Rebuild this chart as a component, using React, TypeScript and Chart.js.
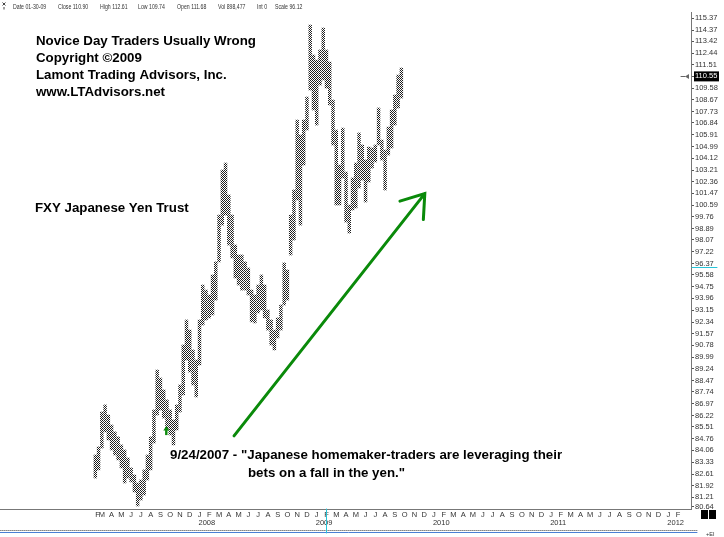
import React, { useEffect, useRef } from 'react';
import { Chart, registerables } from 'chart.js';

Chart.register(...registerables);

// ---- data ----
// one bar per ~10 days: period start dates
const PERIODS = [
  '2007-02-11', '2007-02-21',
  '2007-03-01', '2007-03-11', '2007-03-21', '2007-04-01', '2007-04-11', '2007-04-21',
  '2007-05-01', '2007-05-11', '2007-05-21', '2007-06-01', '2007-06-11', '2007-06-21',
  '2007-07-01', '2007-07-11', '2007-07-21', '2007-08-01', '2007-08-11', '2007-08-21',
  '2007-09-01', '2007-09-11', '2007-09-21', '2007-10-01', '2007-10-11', '2007-10-21',
  '2007-11-01', '2007-11-11', '2007-11-21', '2007-12-01', '2007-12-11', '2007-12-21',
  '2008-01-01', '2008-01-11', '2008-01-21', '2008-02-01', '2008-02-11', '2008-02-21',
  '2008-03-01', '2008-03-11', '2008-03-21', '2008-04-01', '2008-04-11', '2008-04-21',
  '2008-05-01', '2008-05-11', '2008-05-21', '2008-06-01', '2008-06-11', '2008-06-21',
  '2008-07-01', '2008-07-11', '2008-07-21', '2008-08-01', '2008-08-11', '2008-08-21',
  '2008-09-01', '2008-09-11', '2008-09-21', '2008-10-01', '2008-10-11', '2008-10-21',
  '2008-11-01', '2008-11-11', '2008-11-21', '2008-12-01', '2008-12-11', '2008-12-21',
  '2009-01-01', '2009-01-11', '2009-01-21', '2009-02-01', '2009-02-11', '2009-02-21',
  '2009-03-01', '2009-03-11', '2009-03-21', '2009-04-01', '2009-04-11', '2009-04-21',
  '2009-05-01', '2009-05-11', '2009-05-21', '2009-06-01', '2009-06-11', '2009-06-21',
  '2009-07-01', '2009-07-11', '2009-07-21', '2009-08-01', '2009-08-11', '2009-08-21',
  '2009-09-01', '2009-09-11', '2009-09-21',
];

const HIGHS = [
  83.77, 84.27, 86.45, 86.90, 86.26, 85.63, 85.20, 84.89, 84.39, 84.08,
  83.59, 82.98, 82.55, 82.07, 82.25, 82.86, 83.77, 84.89, 86.58, 89.15,
  88.63, 87.86, 87.22, 86.58, 85.95, 86.90, 88.18, 90.80, 92.48, 91.80,
  90.47, 89.81, 92.48, 94.88, 94.53, 94.19, 95.58, 96.50, 99.87, 103.22,
  103.75, 101.35, 99.87, 97.70, 96.99, 96.99, 96.50, 96.07, 94.53, 94.19,
  94.88, 95.58, 94.88, 93.16, 92.48, 91.80, 92.62, 93.50, 96.43, 95.93,
  99.87, 101.72, 107.07, 105.90, 107.07, 108.89, 114.79, 112.29, 111.88, 112.71,
  114.54, 112.71, 111.72, 108.65, 106.29, 103.60, 106.44, 103.07, 100.61, 102.62,
  103.75, 106.06, 105.13, 103.98, 104.97, 104.90, 105.13, 108.02, 105.51, 104.74,
  106.52, 107.86, 109.05, 110.66, 111.23,
];

const LOWS = [
  82.37, 82.86, 84.20, 85.20, 84.70, 84.08, 83.77, 83.47, 82.98, 82.07,
  82.37, 82.13, 81.53, 80.70, 81.05, 81.35, 82.25, 82.86, 84.51, 86.26,
  86.58, 86.07, 85.44, 85.01, 84.39, 85.32, 86.45, 87.54, 89.81, 89.02,
  88.18, 87.41, 89.48, 92.14, 92.48, 92.62, 92.82, 93.84, 96.50, 99.14,
  99.87, 97.70, 96.78, 95.37, 94.88, 94.53, 94.53, 94.19, 92.35, 92.28,
  92.96, 93.16, 92.62, 91.80, 90.80, 90.47, 91.27, 91.80, 93.50, 93.84,
  96.99, 98.06, 100.98, 99.14, 103.60, 106.29, 109.45, 107.86, 106.68, 109.85,
  110.26, 109.61, 108.26, 105.13, 100.61, 100.61, 102.62, 99.36, 98.56, 100.24,
  100.39, 101.87, 102.47, 100.83, 102.32, 103.37, 103.83, 105.13, 103.98, 101.72,
  104.36, 104.90, 106.68, 108.02, 108.81,
];

const Y_TICKS = [
  115.37, 114.37, 113.42, 112.44, 111.51, 110.55, 109.58, 108.67, 107.73, 106.84,
  105.91, 104.99, 104.12, 103.21, 102.36, 101.47, 100.59, 99.76, 98.89, 98.07,
  97.22, 96.37, 95.58, 94.75, 93.96, 93.15, 92.34, 91.57, 90.78, 89.99,
  89.24, 88.47, 87.74, 86.97, 86.22, 85.51, 84.76, 84.06, 83.33, 82.61,
  81.92, 81.21, 80.64,
];

const MONTH_LETTERS = ['J', 'F', 'M', 'A', 'M', 'J', 'J', 'A', 'S', 'O', 'N', 'D'];
const YEAR_LABELS = ['2008', '2009', '2010', '2011', '2012'];
const FIRST_TICK = 1.55; // 'F' label at the first bar (Feb 2007)
const LAST_TICK = 61; // Feb 2012

const LAST_PRICE = 110.55;
const CURSOR_DATE = '2009-01-30';
const CURSOR_PRICE = 96.12;

const HEADER_ITEMS = [
  'Date 01-30-09', 'Close 110.90', 'High 112.61', 'Low 109.74',
  'Open 111.68', 'Vol 898,477', 'Int 0', 'Scale 96.12',
];
const TITLE_LINES = [
  'Novice Day Traders Usually Wrong',
  'Copyright \u00A92009',
  'Lamont Trading Advisors, Inc.',
  'www.LTAdvisors.net',
];
const TRUST_LABEL = 'FXY Japanese Yen Trust';
const QUOTE_LINES = [
  '9/24/2007 - "Japanese homemaker-traders are leveraging their',
  'bets on a fall in the yen."',
];
// arrow anchors in data space (date, price)
const ARROW_FROM = { date: '2008-04-17', price: 84.95 };
const ARROW_TO = { date: '2009-12-03', price: 101.45 };
const SMALL_ARROW = { date: '2007-09-19', price: 85.0 };

// ---- helpers ----
const toMonth = (s: string) => {
  const [y, m, d] = s.split('-').map(Number);
  return (y - 2007) * 12 + (m - 1) + (d - 1) / 30;
};

const FONT = "'Liberation Sans', Arial, sans-serif";
const X_MIN = -8.426;
const X_MAX = 62.32;
const Y_MIN = 80.52;
const Y_MAX = 115.89;

export default function App() {
  const ref = useRef<HTMLCanvasElement | null>(null);

  useEffect(() => {
    const canvas = ref.current;
    if (!canvas) return;
    const ctx0 = canvas.getContext('2d')!;

    const pc = document.createElement('canvas');
    pc.width = 2;
    pc.height = 2;
    const pctx = pc.getContext('2d')!;
    pctx.fillStyle = '#ffffff';
    pctx.fillRect(0, 0, 2, 2);
    pctx.fillStyle = '#1e1e1e';
    pctx.fillRect(0, 0, 1, 1);
    pctx.fillRect(1, 1, 1, 1);
    const pattern = ctx0.createPattern(pc, 'repeat') as CanvasPattern;

    const xTicks: number[] = [FIRST_TICK];
    for (let m = 2; m <= LAST_TICK; m++) xTicks.push(m);

    const data = PERIODS.map((p, i) => ({ x: toMonth(p), y: [LOWS[i], HIGHS[i]] }));

    const overlay = {
      id: 'overlay',
      beforeDraw(chart: any) {
        const ctx = chart.ctx;
        const ys = chart.scales.y;
        const py = ys.getPixelForValue(LAST_PRICE);
        ctx.save();
        ctx.fillStyle = '#000';
        ctx.fillRect(694, py - 5, 25, 10);
        ctx.restore();
      },
      afterDraw(chart: any) {
        const ctx = chart.ctx;
        const xs = chart.scales.x;
        const ys = chart.scales.y;
        ctx.save();

        // header icon
        ctx.strokeStyle = '#444';
        ctx.lineWidth = 1;
        ctx.beginPath();
        ctx.moveTo(2.5, 2.5); ctx.lineTo(5.5, 5.5);
        ctx.moveTo(5.5, 2.5); ctx.lineTo(2.5, 5.5);
        ctx.moveTo(4, 7); ctx.lineTo(4, 9.5);
        ctx.stroke();

        // header quote line
        const headerX = [13, 58, 100, 138, 177, 218, 257, 275];
        ctx.fillStyle = '#333';
        ctx.font = `6.5px ${FONT}`;
        ctx.textBaseline = 'alphabetic';
        ctx.textAlign = 'left';
        HEADER_ITEMS.forEach((t, i) => {
          ctx.save();
          ctx.translate(headerX[i], 8.5);
          ctx.scale(0.8, 1);
          ctx.fillText(t, 0, 0);
          ctx.restore();
        });

        // titles
        ctx.fillStyle = '#000';
        ctx.font = `bold 13.3px ${FONT}`;
        TITLE_LINES.forEach((t, i) => ctx.fillText(t, 36, 45 + i * 17));
        ctx.fillText(TRUST_LABEL, 35, 212);
        ctx.fillText(QUOTE_LINES[0], 170, 459);
        ctx.fillText(QUOTE_LINES[1], 248, 476.5);

        // main green arrow
        const x1 = xs.getPixelForValue(toMonth(ARROW_FROM.date));
        const y1 = ys.getPixelForValue(ARROW_FROM.price);
        const x2 = xs.getPixelForValue(toMonth(ARROW_TO.date));
        const y2 = ys.getPixelForValue(ARROW_TO.price);
        ctx.strokeStyle = '#0a8a0a';
        ctx.lineWidth = 3;
        ctx.lineCap = 'round';
        ctx.beginPath();
        ctx.moveTo(x1, y1);
        ctx.lineTo(x2, y2);
        const ang = Math.atan2(y1 - y2, x1 - x2);
        const hl = 26;
        const spread = (35 * Math.PI) / 180;
        ctx.moveTo(x2 + hl * Math.cos(ang + spread), y2 + hl * Math.sin(ang + spread));
        ctx.lineTo(x2, y2);
        ctx.lineTo(x2 + hl * Math.cos(ang - spread), y2 + hl * Math.sin(ang - spread));
        ctx.stroke();

        // small green up arrow
        const sx = xs.getPixelForValue(toMonth(SMALL_ARROW.date));
        const sy = ys.getPixelForValue(SMALL_ARROW.price);
        ctx.fillStyle = '#0a8a0a';
        ctx.beginPath();
        ctx.moveTo(sx, sy - 9);
        ctx.lineTo(sx + 3, sy - 4.5);
        ctx.lineTo(sx - 3, sy - 4.5);
        ctx.closePath();
        ctx.fill();
        ctx.fillRect(sx - 1.2, sy - 5, 2.4, 5);

        // year labels
        ctx.fillStyle = '#333';
        ctx.font = `7.5px ${FONT}`;
        ctx.textAlign = 'left';
        YEAR_LABELS.forEach((t, i) => {
          const px = xs.getPixelForValue(12 * (i + 1));
          ctx.fillText(t, px - 1, 525);
        });

        // bottom lines
        ctx.strokeStyle = '#888';
        ctx.lineWidth = 1;
        ctx.setLineDash([1, 1]);
        ctx.beginPath();
        ctx.moveTo(0, 530.5);
        ctx.lineTo(697, 530.5);
        ctx.stroke();
        ctx.setLineDash([]);
        ctx.strokeStyle = '#4a7fd4';
        ctx.beginPath();
        ctx.moveTo(0, 532.5);
        ctx.lineTo(697, 532.5);
        ctx.stroke();

        // cursor marks (cyan)
        const cx = Math.round(xs.getPixelForValue(toMonth(CURSOR_DATE))) + 0.5;
        ctx.strokeStyle = '#27c4d8';
        ctx.beginPath();
        ctx.moveTo(cx, 509);
        ctx.lineTo(cx, 533);
        const cy = Math.round(ys.getPixelForValue(CURSOR_PRICE)) + 0.5;
        ctx.moveTo(692, cy);
        ctx.lineTo(717, cy);
        ctx.stroke();

        // last price marker left of axis
        const py = Math.round(ys.getPixelForValue(LAST_PRICE)) + 0.5;
        ctx.strokeStyle = '#666';
        ctx.fillStyle = '#666';
        ctx.beginPath();
        ctx.moveTo(681, py);
        ctx.lineTo(685, py);
        ctx.stroke();
        ctx.beginPath();
        ctx.moveTo(685, py);
        ctx.lineTo(689, py - 2.5);
        ctx.lineTo(689, py + 2.5);
        ctx.closePath();
        ctx.fill();

        // black squares bottom right
        ctx.fillStyle = '#000';
        ctx.fillRect(701, 510, 7, 9);
        ctx.fillRect(709, 510, 7, 9);
        ctx.fillStyle = '#333';
        ctx.font = `5.5px ${FONT}`;
        ctx.fillText('+EI', 706, 535.5);

        ctx.restore();
      },
    };

    const chart = new Chart(canvas, {
      type: 'bar',
      data: {
        datasets: [
          {
            data: data as any,
            backgroundColor: pattern,
            borderWidth: 0,
            barThickness: 2.8,
          },
        ],
      },
      options: {
        animation: false,
        responsive: false,
        layout: { padding: { top: 12, left: 0, right: 0, bottom: 0 } },
        plugins: { legend: { display: false }, tooltip: { enabled: false } },
        scales: {
          x: {
            type: 'linear',
            min: X_MIN,
            max: X_MAX,
            offset: false,
            bounds: 'data',
            grid: { display: false, drawTicks: false, tickLength: 0, offset: false },
            border: { display: true, color: '#777', dash: [1, 1], width: 1 },
            afterBuildTicks: (s: any) => {
              s.ticks = xTicks.map((v) => ({ value: v }));
            },
            afterFit: (s: any) => {
              s.height = 28;
            },
            ticks: {
              autoSkip: false,
              maxRotation: 0,
              minRotation: 0,
              padding: 1,
              color: '#333',
              font: { family: FONT, size: 7.5 },
              callback: (v: any) =>
                Number(v) < 2 ? 'F' : MONTH_LETTERS[Math.round(Number(v)) % 12],
            },
          },
          y: {
            type: 'logarithmic',
            position: 'right',
            min: Y_MIN,
            max: Y_MAX,
            bounds: 'data',
            beginAtZero: false,
            grid: { drawOnChartArea: false, drawTicks: true, tickLength: 3, color: '#555' },
            border: { display: true, color: '#777', dash: [1, 1], width: 1 },
            afterBuildTicks: (s: any) => {
              s.ticks = Y_TICKS.map((v) => ({ value: v }));
            },
            afterFit: (s: any) => {
              s.width = 33;
            },
            ticks: {
              autoSkip: false,
              padding: 1,
              font: { family: FONT, size: 7.5 },
              color: (c: any) => (c.tick && c.tick.value === LAST_PRICE ? '#fff' : '#333'),
              callback: (v: any) => Number(v).toFixed(2),
            },
          },
        },
      } as any,
      plugins: [overlay],
    });

    return () => chart.destroy();
  }, []);

  return (
    <div style={{ position: 'fixed', left: 0, top: 0, width: 724, height: 537, background: '#fff' }}>
      <canvas ref={ref} width={724} height={537} style={{ display: 'block' }} />
    </div>
  );
}
